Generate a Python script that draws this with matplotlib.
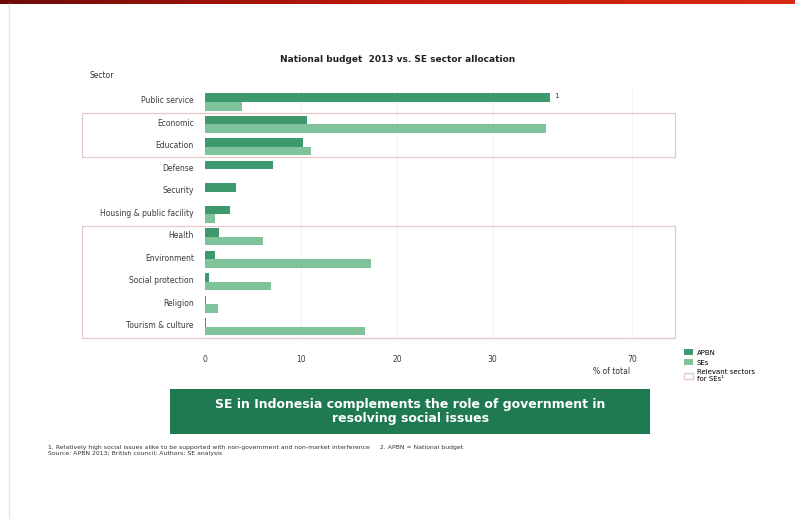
import numpy as np
import matplotlib
matplotlib.use('Agg')
import matplotlib.pyplot as plt
from matplotlib.patches import Patch, Rectangle

sectors = ['Public service', 'Economic', 'Education', 'Defense', 'Security',
           'Housing & public facility', 'Health', 'Environment',
           'Social protection', 'Religion', 'Tourism & culture']
apbn = [36.0, 10.6, 10.2, 7.1, 3.2, 2.6, 1.5, 1.0, 0.4, 0.1, 0.1]
ses = [3.9, 35.5, 11.1, 0.0, 0.0, 1.0, 6.0, 17.3, 6.9, 1.4, 16.7]
tick_vals = [0, 10, 20, 30, 44.5]
tick_labels = ['0', '10', '20', '30', '70']
highlight_groups = [(1, 2), (6, 10)]

dark_green = '#3e9a6c'
light_green = '#80c29a'
box_green = '#1f7a52'
pink = '#e8c8c8'


def main():
    fig = plt.figure(figsize=(7.95, 5.19), dpi=100)
    fig.patch.set_facecolor('white')

    # red band on top
    band = fig.add_axes([0, 1 - 4 / 519, 1, 4 / 519])
    grad = np.linspace(0, 1, 256).reshape(1, -1)
    band.imshow(grad, aspect='auto', cmap=matplotlib.colors.LinearSegmentedColormap.from_list(
        'r', ['#6e0a08', '#c21a0c', '#d82a10']))
    band.axis('off')

    # faint left border
    fig.add_artist(plt.Line2D([9 / 795, 9 / 795], [0, 1 - 4 / 519], color='#e4e4e4', lw=1.0))

    ax = fig.add_axes([205 / 795, 1 - 338 / 519, 470 / 795, 249.5 / 519])
    y = np.arange(len(sectors))
    h = 0.38
    ax.barh(y - h / 2, apbn, height=h, color=dark_green, edgecolor='none')
    ax.barh(y + h / 2, ses, height=h, color=light_green, edgecolor='none')
    ax.set_xlim(0, 49)
    ax.set_ylim(10.5, -0.6)
    ax.set_yticks(y - 0.1)
    ax.set_yticklabels(sectors, fontsize=5.5, color='#3a3a3a')
    ax.set_xticks(tick_vals)
    ax.set_xticklabels(tick_labels, fontsize=5.5, color='#3a3a3a')
    ax.tick_params(axis='both', length=0, pad=8)
    ax.tick_params(axis='x', pad=12)
    for s in ['top', 'right', 'left']:
        ax.spines[s].set_visible(False)
    ax.spines['bottom'].set_color('#d8d8d8')
    for v in tick_vals[1:]:
        ax.axvline(v, color='#f2f2f2', lw=0.8, zorder=0)
    ax.text(apbn[0] + 0.4, -0.25, '1', fontsize=5, color='#333333', va='center')

    # highlight boxes for relevant sectors
    for a, b in highlight_groups:
        y0 = 1 - (102 + 22.6 * a - 12) / 519
        y1 = 1 - (102 + 22.6 * b + 10) / 519
        fig.add_artist(Rectangle((82 / 795, y1), (675 - 82) / 795, y0 - y1,
                                 fill=False, edgecolor=pink, lw=0.9, transform=fig.transFigure))

    fig.text(398 / 795, 1 - 60 / 519, 'National budget  2013 vs. SE sector allocation',
             fontsize=6.5, fontweight='bold', ha='center', va='center', color='#222222')
    fig.text(90 / 795, 1 - 75 / 519, 'Sector', fontsize=5.5, ha='left', va='center', color='#333333')
    fig.text(612 / 795, 1 - 372 / 519, '% of total', fontsize=5.5, ha='center', va='center',
             color='#333333')

    handles = [Patch(facecolor=dark_green, edgecolor='none', label='APBN'),
               Patch(facecolor=light_green, edgecolor='none', label='SEs'),
               Patch(facecolor='white', edgecolor=pink, label='Relevant sectors\nfor SEs\u00b9')]
    fig.legend(handles=handles, loc='upper left', bbox_to_anchor=(678 / 795, 1 - 343 / 519),
               frameon=False, fontsize=5, handlelength=1.3, handleheight=0.9,
               handletextpad=0.5, labelspacing=0.55)

    # green message box
    fig.add_artist(Rectangle((170 / 795, 1 - 434 / 519), 480 / 795, 45 / 519,
                             facecolor=box_green, edgecolor='none', transform=fig.transFigure))
    fig.text(410 / 795, 1 - 411.5 / 519,
             'SE in Indonesia complements the role of government in\nresolving social issues',
             fontsize=9, fontweight='bold', color='white', ha='center', va='center',
             linespacing=1.15)

    fig.text(48 / 795, 1 - 447 / 519,
             '1. Relatively high social issues alike to be supported with non-government and '
             'non-market interference     2. APBN = National budget',
             fontsize=4.4, color='#333333', ha='left', va='center')
    fig.text(48 / 795, 1 - 453.5 / 519,
             'Source: APBN 2013; British council; Authors; SE analysis',
             fontsize=4.4, color='#333333', ha='left', va='center')

    fig.savefig('out.png', dpi=100)


if __name__ == '__main__':
    main()
